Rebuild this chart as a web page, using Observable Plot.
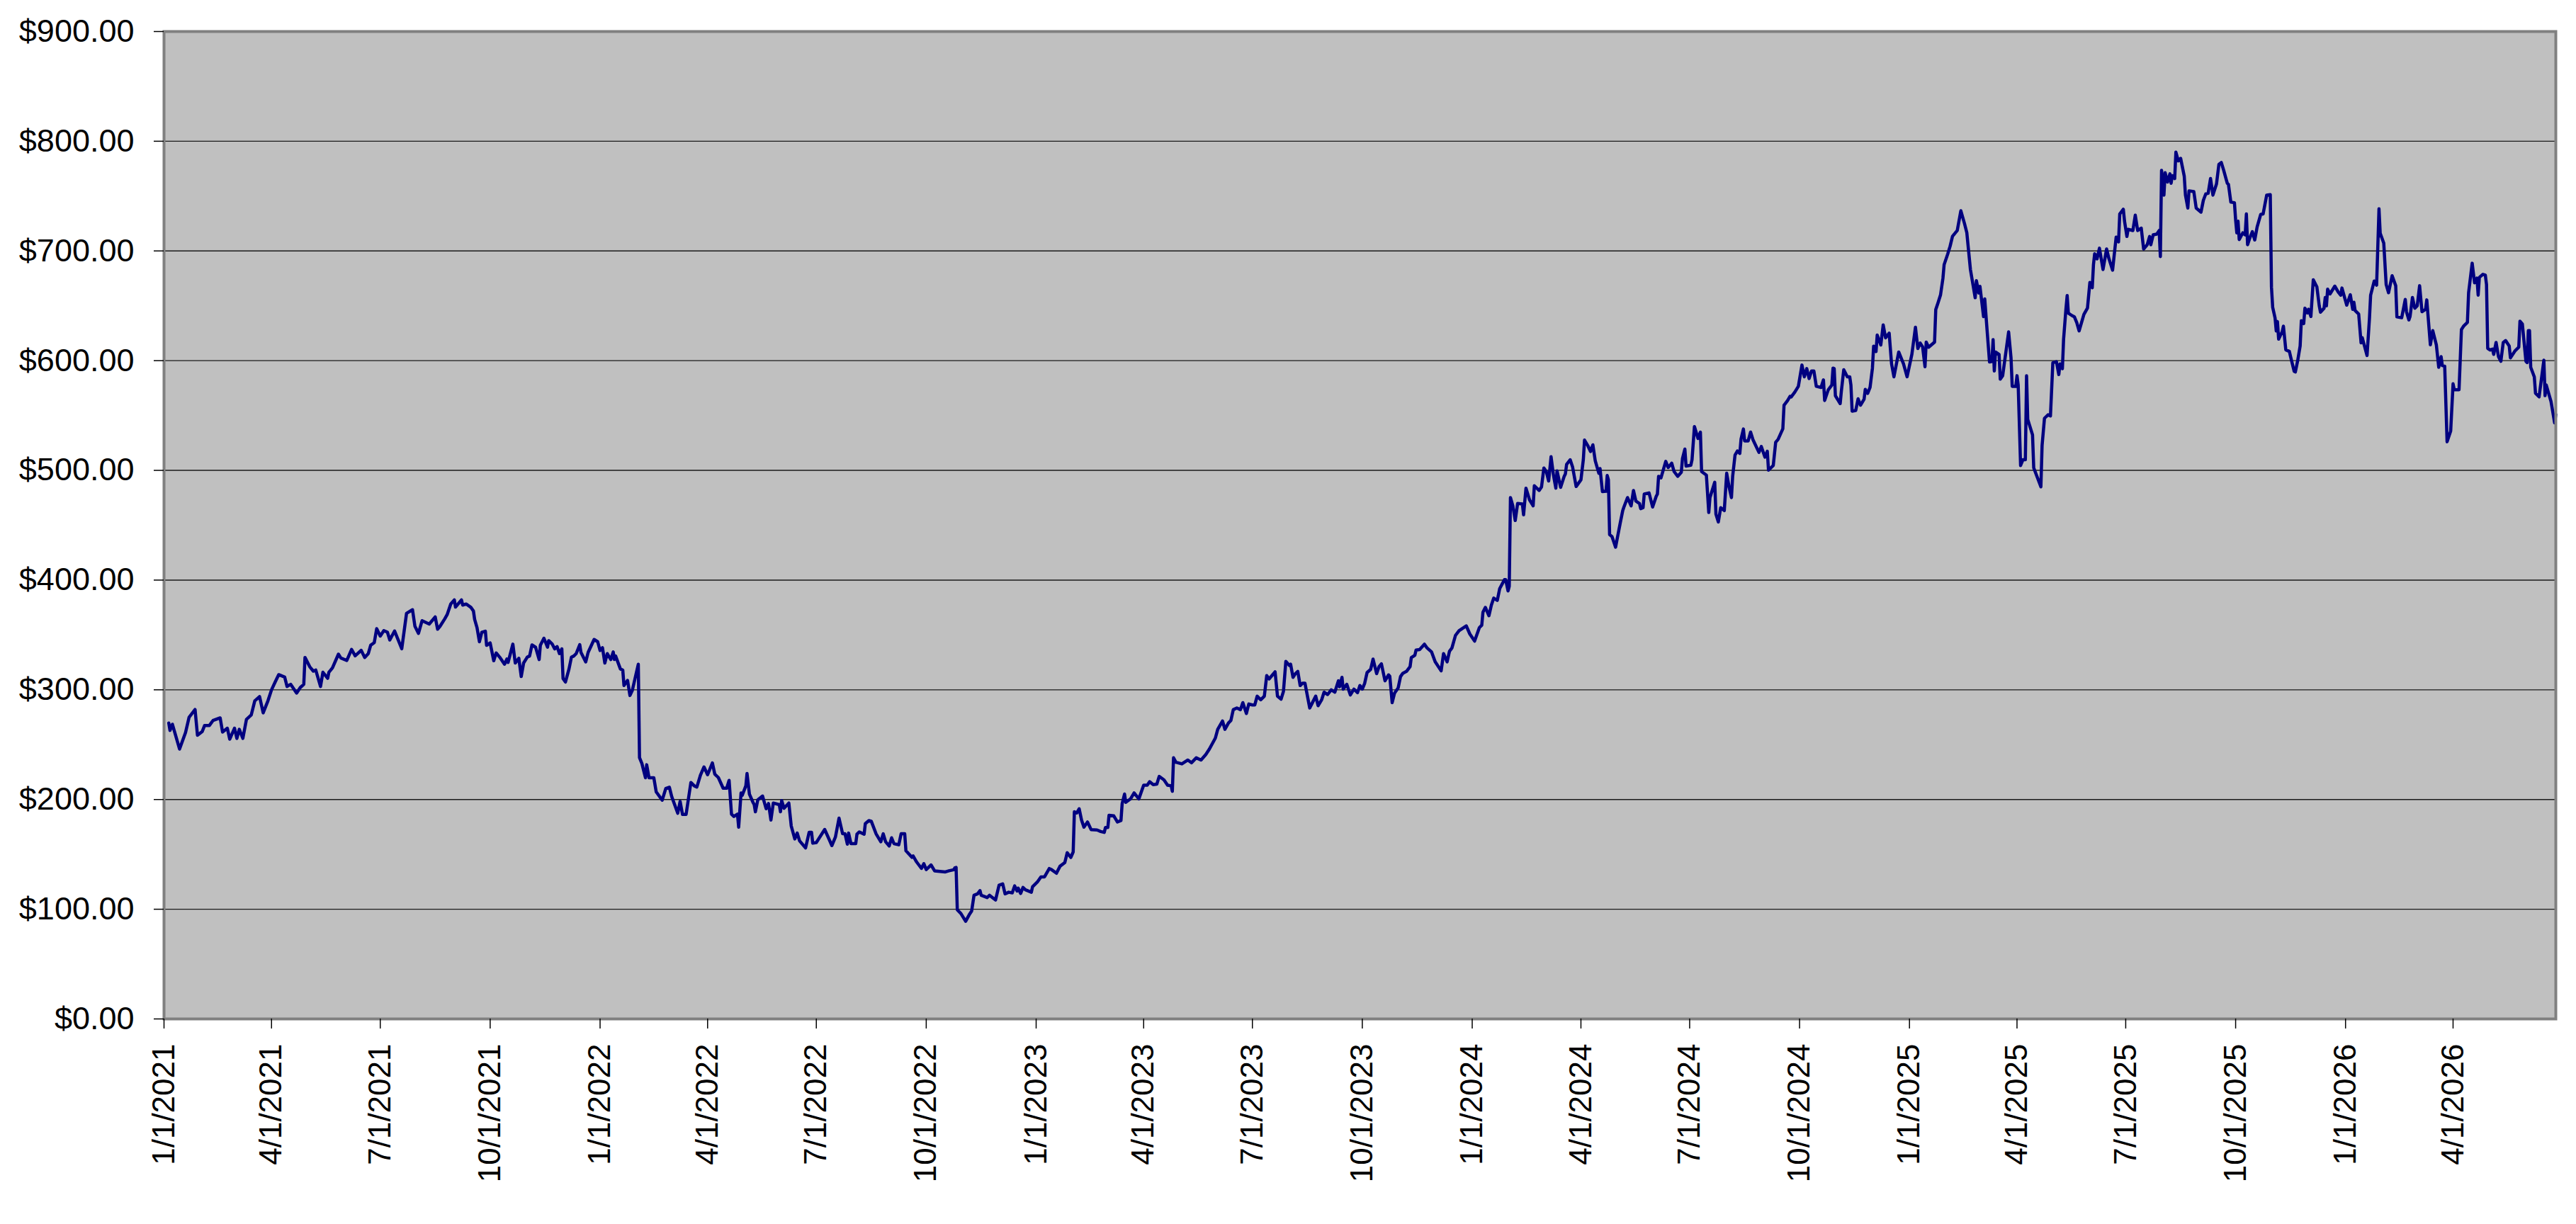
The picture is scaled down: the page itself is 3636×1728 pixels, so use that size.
<!DOCTYPE html>
<html>
<head>
<meta charset="utf-8">
<script src="https://cdn.jsdelivr.net/npm/d3@7"></script>
<script src="https://cdn.jsdelivr.net/npm/@observablehq/plot@0.6"></script>
<style>
html, body { margin: 0; padding: 0; background: #ffffff; }
svg { display: block; }
</style>
</head>
<body>
<div id="chart"></div>
<script>
const prices2021 = [
["2021-01-05",269.7],["2021-01-06",263],["2021-01-08",268.6],["2021-01-14",246],["2021-01-19",261],["2021-01-22",275],["2021-01-27",282],["2021-01-29",258.5],["2021-02-02",262],["2021-02-04",267.5],["2021-02-08",267.5],["2021-02-11",272],["2021-02-17",274.4],["2021-02-19",261.5],["2021-02-23",265],["2021-02-25",255],["2021-03-01",265],["2021-03-03",255.7],["2021-03-05",264],["2021-03-08",255.7],["2021-03-11",273],["2021-03-15",277],["2021-03-18",290],["2021-03-22",293.8],["2021-03-25",279],["2021-03-29",290],["2021-04-01",300],["2021-04-04",307],["2021-04-07",313.8],["2021-04-12",311.6],["2021-04-14",303],["2021-04-17",305],["2021-04-22",297],["2021-04-25",302],["2021-04-28",305],["2021-04-29",329.5],["2021-05-03",321],["2021-05-06",317],["2021-05-08",318],["2021-05-12",303],["2021-05-14",316],["2021-05-18",310.5],["2021-05-19",316],["2021-05-22",320],["2021-05-27",332.5],["2021-05-29",329],["2021-06-03",326.7],["2021-06-07",336.8],["2021-06-10",331],["2021-06-15",336],["2021-06-18",329.5],["2021-06-21",333],["2021-06-23",340.7],["2021-06-26",343],["2021-06-28",355.7],["2021-07-01",349],["2021-07-04",354],["2021-07-07",352.5],["2021-07-09",345.4],["2021-07-13",353.6],["2021-07-19",337.4],["2021-07-23",369.7],["2021-07-28",373],["2021-07-30",358],["2021-08-02",351.4],["2021-08-05",363],
["2021-08-11",359.9],["2021-08-16",366.4],["2021-08-18",355.2],["2021-08-20",357.8],["2021-08-24",364.7],["2021-08-26",368.5],["2021-08-29",378.2],["2021-09-01",381.9],["2021-09-02",375.4],["2021-09-07",381.9],["2021-09-08",377.2],["2021-09-11",378.2],["2021-09-15",375],["2021-09-17",371.8],["2021-09-18",364.2],["2021-09-20",356.7],["2021-09-22",343.8],["2021-09-24",352.4],["2021-09-27",353.4],["2021-09-28",340.5],["2021-10-01",342.7],["2021-10-04",326.5],["2021-10-06",333.6],["2021-10-09",329.7],["2021-10-13",323.3],["2021-10-15",328],["2021-10-16",325],["2021-10-20",341.6],["2021-10-22",324.4],["2021-10-25",328.7],["2021-10-27",312.1],["2021-10-29",324.4],["2021-11-01",329.7],["2021-11-03",330.8],["2021-11-05",340.9],["2021-11-08",338.8],["2021-11-11",327.6],["2021-11-12",340.5],["2021-11-15",347],["2021-11-18",338.8],["2021-11-19",344.8],["2021-11-22",341.6],["2021-11-24",337.3],["2021-11-26",339.4],["2021-11-28",333],["2021-11-30",337.3],["2021-12-01",310.3],["2021-12-03",307.1],["2021-12-06",319],["2021-12-08",329.7],["2021-12-10",330.8],["2021-12-12",333],["2021-12-15",341.2],["2021-12-16",334.1],["2021-12-20",325.4],["2021-12-22",334.1],["2021-12-27",345.9],["2021-12-30",343.8]
];
const prices2022 = [
["2022-01-01",335.8],["2022-01-03",338.4],["2022-01-05",324.4],["2022-01-07",333],["2022-01-10",327.6],["2022-01-12",334.5],["2022-01-13",327.6],["2022-01-14",330.8],["2022-01-18",319],["2022-01-20",318],["2022-01-21",303.9],["2022-01-24",308.6],["2022-01-26",294.8],["2022-01-28",299.6],["2022-02-02",323.3],["2022-02-03",238.1],["2022-02-05",232.8],["2022-02-08",219.8],["2022-02-09",231.7],["2022-02-11",219.8],["2022-02-15",219.8],["2022-02-17",206.9],["2022-02-22",199.4],["2022-02-25",210.1],["2022-02-28",211.2],["2022-03-02",202.6],["2022-03-07",187.5],["2022-03-09",198.3],["2022-03-11",186.4],["2022-03-14",186.4],["2022-03-18",215.5],["2022-03-21",212.3],
["2022-03-23",211.4],["2022-03-26",222.2],["2022-03-29",229.7],["2022-04-01",222.6],["2022-04-05",233.4],["2022-04-07",223.2],["2022-04-10",220],["2022-04-14",210.3],["2022-04-17",210.3],["2022-04-19",217.4],["2022-04-21",186.7],["2022-04-23",184.5],["2022-04-26",186.7],["2022-04-27",174.8],["2022-04-29",206],["2022-04-30",203.9],["2022-05-03",212.5],["2022-05-04",223.7],["2022-05-06",204.9],["2022-05-09",197.4],["2022-05-10",195.3],["2022-05-11",188.8],["2022-05-13",199.6],["2022-05-17",203.2],["2022-05-20",191.6],["2022-05-22",196.3],["2022-05-24",181.3],["2022-05-26",196.8],["2022-05-31",195.3],["2022-06-01",188.8],["2022-06-02",199],["2022-06-04",192],["2022-06-08",196.8],["2022-06-10",175.9],["2022-06-13",164.1],["2022-06-15",169.4],["2022-06-17",162.3],["2022-06-22",155.9],["2022-06-25",170.1],["2022-06-27",170.1],["2022-06-28",160.2],["2022-07-01",160.8],["2022-07-08",172.7],["2022-07-12",163],["2022-07-14",158],["2022-07-17",165.8],["2022-07-20",183],["2022-07-23",168.8],["2022-07-25",168.8],["2022-07-27",159.3],["2022-07-28",169.4],["2022-07-30",159.8],["2022-08-03",159.8],["2022-08-04",168.4],["2022-08-06",170.5],["2022-08-10",168.4],["2022-08-11",178],["2022-08-14",180.8],["2022-08-16",180.2],["2022-08-20",168.8],["2022-08-24",161.5],["2022-08-26",168.8],["2022-08-28",161.5],["2022-08-31",157.6],["2022-09-02",165.1],["2022-09-04",159.8],["2022-09-08",158.7],["2022-09-10",168.8],["2022-09-13",168.8],["2022-09-14",153.3],["2022-09-19",147.3],["2022-09-20",148.6],["2022-09-23",143],["2022-09-27",137.2],["2022-09-29",141.5],["2022-10-01",136.1],["2022-10-05",140.4],["2022-10-08",135],["2022-10-17",134],["2022-10-20",135],["2022-10-24",136],["2022-10-25",137.8],
["2022-10-26",138.1],["2022-10-27",99.4],["2022-10-30",96.1],["2022-11-03",89],["2022-11-06",95],["2022-11-08",98.3],["2022-11-10",112.7],["2022-11-13",114],["2022-11-15",117],["2022-11-16",112.7],["2022-11-21",110.6],["2022-11-23",112.7],["2022-11-28",108.4],["2022-12-01",122],["2022-12-04",123.1],["2022-12-06",114],["2022-12-09",115.5],["2022-12-12",114.9],["2022-12-14",121.3],["2022-12-16",116.6],["2022-12-17",119.2],["2022-12-19",114.4],["2022-12-21",119.8],["2022-12-23",117.7],["2022-12-28",115.5],["2022-12-29",120.5]
];
const prices2023 = [
["2023-01-02",124.8],["2023-01-05",129.5],["2023-01-08",129.5],["2023-01-12",137.1],["2023-01-14",136],["2023-01-18",132.8],["2023-01-21",139.2],["2023-01-25",142.5],["2023-01-27",151.5],["2023-01-30",147.2],["2023-02-01",152.2],["2023-02-02",188.8],["2023-02-04",187.7],["2023-02-06",191.6],["2023-02-08",181.3],["2023-02-10",174.8],["2023-02-13",179.5],["2023-02-16",172.6],["2023-02-21",172.2],["2023-02-24",170.9],["2023-02-27",170],["2023-02-28",174.4],["2023-03-02",174.4],["2023-03-03",185.6],["2023-03-07",185.1],["2023-03-10",179.5],["2023-03-13",180.8],["2023-03-14",196.3],["2023-03-16",205],["2023-03-17",197.4],["2023-03-21",200.6],["2023-03-24",206],["2023-03-28",200.6],["2023-04-01",213.1],["2023-04-04",213.1],["2023-04-06",216.2],["2023-04-09",213.6],["2023-04-12",214],["2023-04-14",221.1],["2023-04-18",217.9],["2023-04-21",213.1],["2023-04-24",212.5],["2023-04-25",207.5],["2023-04-26",238],["2023-04-28",234],["2023-05-03",232.5],["2023-05-08",236],["2023-05-11",233.5],["2023-05-15",238],["2023-05-19",236],["2023-05-23",241],["2023-05-26",246],["2023-05-31",256],["2023-06-02",264],
["2023-06-06",271.5],["2023-06-08",264],["2023-06-11",269.8],["2023-06-13",272],["2023-06-15",281.9],["2023-06-18",283.4],["2023-06-21",281.9],["2023-06-23",288.3],["2023-06-26",278.4],["2023-06-28",287.1],["2023-07-01",286.2],["2023-07-03",286.2],["2023-07-05",294.2],["2023-07-08",290.9],["2023-07-11",294.2],["2023-07-13",312.9],["2023-07-15",309.9],["2023-07-17",312.5],["2023-07-20",316.4],["2023-07-22",294.2],["2023-07-25",291.4],["2023-07-27",298.5],["2023-07-29",325.9],["2023-08-01",322.2],["2023-08-02",323.3],["2023-08-04",311.4],["2023-08-06",314.7],["2023-08-08",316.8],["2023-08-10",303.9],["2023-08-12",306],["2023-08-14",306],["2023-08-18",283.4],["2023-08-20",287.7],["2023-08-23",294.2],["2023-08-25",285.5],["2023-08-28",290.9],["2023-08-30",297.8],["2023-09-02",295.7],["2023-09-05",300],["2023-09-08",297.8],["2023-09-11",308.2],["2023-09-12",302.8],["2023-09-14",311.4],["2023-09-15",300.6],["2023-09-18",305],["2023-09-21",295.3],["2023-09-24",300.6],["2023-09-27",297.4],["2023-09-29",303.9],["2023-10-01",300.6],["2023-10-03",306],["2023-10-05",315.7],["2023-10-08",318.6],["2023-10-10",328],["2023-10-13",314.7],["2023-10-15",321.1],["2023-10-17",323.7],["2023-10-20",308.2],["2023-10-23",313.6],["2023-10-24",312.5],["2023-10-26",288.3],["2023-10-28",297],["2023-10-31",301.7],["2023-11-02",312.1],["2023-11-04",315.1],["2023-11-07",316.8],["2023-11-10",321.1],["2023-11-11",329.3],["2023-11-14",331.5],["2023-11-15",336.2],["2023-11-18",336.7],["2023-11-22",341.6],["2023-11-24",338.4],["2023-11-28",334.5],["2023-12-01",325.5],["2023-12-06",317.3],["2023-12-08",333],["2023-12-11",325.5],["2023-12-13",335.2],["2023-12-15",338],["2023-12-18",349.6],["2023-12-21",353.9],["2023-12-27",358.3],["2023-12-30",350.9]
];
const prices2024 = [
["2024-01-03",344.4],["2024-01-07",356.7],["2024-01-09",358.9],["2024-01-10",370.8],["2024-01-12",375.1],["2024-01-15",367.5],["2024-01-17",377],["2024-01-19",383.6],["2024-01-22",381.5],["2024-01-24",392.2],["2024-01-28",400.4],["2024-01-29",400.4],["2024-01-31",390.1],["2024-02-01",394.4],["2024-02-02",475.2],["2024-02-04",467.7],["2024-02-06",454.3],["2024-02-08",469.8],["2024-02-12",469.4],["2024-02-13",459.5],["2024-02-15",483.8],["2024-02-18",473.1],["2024-02-21",467.7],["2024-02-22",486],["2024-02-26",481.7],["2024-02-28",484.9],["2024-03-01",502.2],["2024-03-03",498.9],["2024-03-05",490.3],["2024-03-07",512.5],["2024-03-09",495.7],["2024-03-11",483.8],["2024-03-12",499.6],["2024-03-15",484.5],["2024-03-18",494.6],["2024-03-19",496.8],["2024-03-20",505.4],["2024-03-23",509.7],["2024-03-25",503.2],["2024-03-28",485.3],["2024-04-01",491.4],["2024-04-03",509.7],["2024-04-04",527.6],["2024-04-07",522],["2024-04-09",517.2],["2024-04-11",523.3],["2024-04-13",508.6],["2024-04-16",497.4],["2024-04-17",501.7],["2024-04-19",480.6],["2024-04-22",481],["2024-04-23",495.3],["2024-04-24",491.4],["2024-04-25",441.4],["2024-04-27",439.7],["2024-04-30",430],["2024-05-02",441.4],["2024-05-04",452.6],["2024-05-06",463.4],["2024-05-07",466.6],["2024-05-10",475.2],["2024-05-13",467.7],["2024-05-15",481.7],["2024-05-17",472],["2024-05-20",469.8],["2024-05-21",465.1],["2024-05-23",466],["2024-05-24",478.4],["2024-05-28",479.5],["2024-05-31",466.6],["2024-06-03",476.3],["2024-06-04",478.4],["2024-06-05",494.6],["2024-06-07",493.1],["2024-06-11",508.2],["2024-06-13",502.6],["2024-06-16",506.5],["2024-06-18",498.9],["2024-06-21",494.6],["2024-06-24",498.3],["2024-06-25",510.8],["2024-06-27",519.4],["2024-06-28",503.9],["2024-07-02",504.7],["2024-07-03",509.7],["2024-07-05",539.9],["2024-07-08",529.1],["2024-07-10",534.9],["2024-07-11",498.9],["2024-07-15",495.7],["2024-07-17",461.6],["2024-07-18",475.2],["2024-07-22",489.2],["2024-07-23",460.1],["2024-07-25",453],["2024-07-27",466],["2024-07-30",463.4],["2024-08-01",497.4],["2024-08-03",484.9],["2024-08-05",475.2],["2024-08-06",494.6],["2024-08-08",514],["2024-08-10",517.7],["2024-08-12",515.5],["2024-08-13",528.4],["2024-08-15",537.7],["2024-08-16",526.9],["2024-08-19",526.9],["2024-08-21",534.9],["2024-08-23",528],
["2024-08-28",516.4],["2024-08-30",521.7],["2024-09-02",512.1],["2024-09-04",517.4],["2024-09-05",500.2],["2024-09-09",504.5],["2024-09-11",525.6],["2024-09-13",528.2],["2024-09-17",537.9],["2024-09-18",559.4],["2024-09-21",563.7],["2024-09-23",567.4],["2024-09-24",566.9],["2024-09-27",571.3],["2024-09-30",576.6],["2024-10-03",596],["2024-10-05",585.3],["2024-10-07",592.8],["2024-10-09",583.7],["2024-10-11",590.6],["2024-10-13",590.6],["2024-10-15",576.6],["2024-10-19",575.6],["2024-10-21",582.5],["2024-10-22",563.7],["2024-10-25",573.4],["2024-10-28",577.7],["2024-10-29",593.2],["2024-10-30",592.8],["2024-10-31",568],["2024-11-04",560.9],["2024-11-05",572.3],["2024-11-07",591.7],["2024-11-10",585.3],["2024-11-12",585.3],["2024-11-13",577.7],["2024-11-14",554],["2024-11-17",554.5],["2024-11-19",565.2],["2024-11-21",559.4],["2024-11-24",564.8],["2024-11-25",573.8],["2024-11-27",570.2],["2024-11-29",575.6],["2024-12-01",593.2],["2024-12-02",613.2],["2024-12-04",608.3],["2024-12-05",623.4],["2024-12-08",614.3],["2024-12-10",632.6],["2024-12-12",620.8],["2024-12-15",625.1],["2024-12-17",597.1],["2024-12-19",585.3],["2024-12-23",607.9],["2024-12-27",597.1],["2024-12-30",585.3]
];
const prices2025 = [
["2025-01-03",605.7],["2025-01-06",630.5],["2025-01-08",611.1],["2025-01-10",616],["2025-01-12",612.6],["2025-01-14",594.5],["2025-01-15",616.9],["2025-01-17",612.2],["2025-01-22",616.9],["2025-01-23",646.6],["2025-01-25",653.1],["2025-01-27",660],["2025-01-29",675],["2025-01-30",687.5],["2025-02-02",697.2],["2025-02-04",704.3],["2025-02-06",713.3],["2025-02-10",718.7],["2025-02-13",736.6],["2025-02-16",725.2],["2025-02-18",716.6],["2025-02-21",683.2],["2025-02-23",670.3],["2025-02-25",657.4],["2025-02-26",672.9],["2025-02-28",661.7],["2025-03-01",667.7],["2025-03-04",640.2],["2025-03-05",656.3],["2025-03-07",627.2],["2025-03-09",598.8],["2025-03-11",599.3],["2025-03-12",619.1],["2025-03-13",590.6],["2025-03-14",607.9],["2025-03-17",605.7],["2025-03-18",583.1],["2025-03-20",586.3],["2025-03-25",626.2],["2025-03-27",602.5],["2025-03-28",576.6],["2025-03-31",576.6],["2025-04-01",586.3],["2025-04-02",577.7],
["2025-04-04",504.4],["2025-04-06",509.8],["2025-04-08",509.8],["2025-04-09",586.2],["2025-04-10",546.4],["2025-04-14",532.4],["2025-04-15",502.3],["2025-04-21",485],["2025-04-22",522.7],["2025-04-24",547.5],["2025-04-27",550.7],["2025-04-29",549.6],["2025-05-01",598.1],["2025-05-04",599.1],["2025-05-06",587.3],["2025-05-07",597],["2025-05-09",592.7],["2025-05-10",619.6],["2025-05-12",647.6],["2025-05-13",659.4],["2025-05-14",643.3],["2025-05-17",641.1],["2025-05-19",640],["2025-05-21",634.7],["2025-05-23",627.1],["2025-05-27",642.2],["2025-05-30",648],["2025-06-01",671.3],["2025-06-03",666.5],["2025-06-04",687.4],["2025-06-05",697.5],["2025-06-07",692.8],["2025-06-09",702.5],["2025-06-12",683.1],["2025-06-15",701.8],["2025-06-17",692.8],["2025-06-20",682.5],["2025-06-23",712.6],["2025-06-25",708.3],["2025-06-26",733.7],["2025-06-29",738],["2025-06-30",727.2],["2025-07-02",713.2],["2025-07-03",719.7],["2025-07-07",718.6],["2025-07-09",732.6],["2025-07-11",718.6],["2025-07-14",720.8],["2025-07-16",701.8],["2025-07-19",705.7],["2025-07-21",713.2],["2025-07-22",705.7],["2025-07-24",714.7],["2025-07-27",715.4],["2025-07-29",718.6],["2025-07-30",694.9],["2025-07-31",773.5],["2025-08-02",750.9],["2025-08-03",771.4],["2025-08-05",762.8],["2025-08-07",770.3],["2025-08-08",761.7],["2025-08-09",768.6],["2025-08-11",766],["2025-08-12",790.1],["2025-08-14",782.1],["2025-08-16",784.3],["2025-08-19",768.1],["2025-08-20",750.9],["2025-08-22",739.1],["2025-08-23",754.8],["2025-08-27",754.1],["2025-08-29",739.1],["2025-09-02",735.4],["2025-09-04",746.2],["2025-09-06",752],["2025-09-08",752.6],["2025-09-10",766],["2025-09-12",750.9],["2025-09-15",761.2],["2025-09-17",778.9],["2025-09-19",780.6],["2025-09-21",773.5],["2025-09-24",761.7],["2025-09-25",760.6],["2025-09-27",744.5],["2025-09-30",744],["2025-10-01",728.3],["2025-10-02",716.5],["2025-10-03",727.2],["2025-10-04",710.4],["2025-10-07",716.5],["2025-10-09",714.7],["2025-10-10",733.7],["2025-10-11",705.7],["2025-10-13",712.2],["2025-10-15",717.5],["2025-10-17",710],["2025-10-19",721.9],["2025-10-22",733.3],["2025-10-24",733.7],["2025-10-27",750.9],["2025-10-30",751.3],["2025-10-31",667],["2025-11-01",648.7],["2025-11-03",639],["2025-11-04",627.1],["2025-11-05",635.7],["2025-11-06",619.6],["2025-11-09",626.5],["2025-11-10",631.4],["2025-11-12",609.9],
["2025-11-15",608.4],["2025-11-16",603.7],["2025-11-19",590.3],["2025-11-20",589.7],["2025-11-22",600.4],["2025-11-24",613.4],["2025-11-25",636.4],["2025-11-27",633.8],["2025-11-28",647.8],["2025-11-30",643.5],["2025-12-01",646.8],["2025-12-03",640.3],["2025-12-05",673.7],["2025-12-08",667.2],["2025-12-10",650],["2025-12-11",644.2],["2025-12-14",647.8],["2025-12-15",657.5],["2025-12-16",650],["2025-12-17",665.1],["2025-12-19",660.8],["2025-12-23",667.9],["2025-12-26",662.3],["2025-12-28",659.7],["2025-12-29",666.2]
];
const prices2026 = [
["2026-01-02",650.6],["2026-01-05",660.1],["2026-01-07",646.8],["2026-01-08",653.2],["2026-01-09",645.7],["2026-01-12",642.5],["2026-01-14",616.2],["2026-01-15",620.9],["2026-01-19",604.7],["2026-01-21",638.1],["2026-01-22",659.7],["2026-01-25",672.6],["2026-01-27",668.8],["2026-01-29",738.4],["2026-01-30",716.2],["2026-02-02",707.1],["2026-02-04",669.4],["2026-02-06",661.9],["2026-02-09",677.4],["2026-02-12",668.3],["2026-02-13",639.9],["2026-02-17",639.2],["2026-02-20",655.8],["2026-02-21",644.6],["2026-02-23",637.1],["2026-02-24",640.3],["2026-02-26",657.5],["2026-02-28",647.8],["2026-03-02",650],["2026-03-04",668.3],["2026-03-06",644.6],["2026-03-09",646.8],["2026-03-10",655.4],["2026-03-13",614.4],["2026-03-15",627.4],["2026-03-18",614.4],["2026-03-20",594],["2026-03-22",603.7],["2026-03-23",595.5],["2026-03-25",595],["2026-03-27",526.1],["2026-03-30",535.8],["2026-04-01",578.9],["2026-04-02",573.5],["2026-04-06",573.5],["2026-04-08",628.4],["2026-04-10",631.7],["2026-04-13",634.9],["2026-04-14",661.9],["2026-04-17",688.8],["2026-04-19",670.9],["2026-04-21",675.2],["2026-04-22",659.7],["2026-04-23",675.9],["2026-04-26",678.7],["2026-04-28",678],["2026-04-29",669.4],["2026-04-30",611.2],["2026-05-02",609.7],["2026-05-04",610.6],["2026-05-05",605.8],["2026-05-07",616.6],["2026-05-09",603.7],["2026-05-11",599.4],["2026-05-13",616.6],["2026-05-15",618.3],["2026-05-18",613.4],["2026-05-19",602.6],["2026-05-23",609.1],["2026-05-26",612.3],["2026-05-27",636],["2026-05-29",633.4],["2026-06-01",599.4],["2026-06-02",598.3],["2026-06-03",627.4],["2026-06-04",627.4],["2026-06-05",594],["2026-06-08",585.3],["2026-06-09",570.3],["2026-06-12",567],["2026-06-16",600.4],["2026-06-17",568.1],["2026-06-18",577.8],["2026-06-22",562.7],["2026-06-23",556.3],["2026-06-25",543.3],["2026-06-26",550.9]
];

const yTicks = [0, 100, 200, 300, 400, 500, 600, 700, 800, 900];
const xTickLabels = ["1/1/2021","4/1/2021","7/1/2021","10/1/2021","1/1/2022","4/1/2022","7/1/2022","10/1/2022","1/1/2023","4/1/2023","7/1/2023","10/1/2023","1/1/2024","4/1/2024","7/1/2024","10/1/2024","1/1/2025","4/1/2025","7/1/2025","10/1/2025","1/1/2026","4/1/2026"];
const xDomain = ["2021-01-01", "2026-06-26"];

const parseMDY = d3.utcParse("%m/%d/%Y");
const data = d3.sort(
  [...prices2021, ...prices2022, ...prices2023, ...prices2024, ...prices2025, ...prices2026]
    .map(([d, v]) => ({date: new Date(d + "T00:00:00Z"), price: v})),
  d => d.date
);
const xTicks = xTickLabels.map(parseMDY);

const chart = Plot.plot({
  width: 3636,
  height: 1728,
  marginLeft: 231,
  marginRight: 29,
  marginTop: 44,
  marginBottom: 290,
  style: {
    fontFamily: "'Liberation Sans', Arial, Helvetica, sans-serif",
    fontSize: "45px",
    background: "#ffffff",
    color: "#000000"
  },
  x: {type: "utc", domain: xDomain.map(d => new Date(d + "T00:00:00Z"))},
  y: {domain: [0, 900]},
  marks: [
    Plot.frame({fill: "#c0c0c0"}),
    Plot.gridY(yTicks, {stroke: "#1a1a1a", strokeOpacity: 1, strokeWidth: 1.4}),
    Plot.lineY(data, {x: "date", y: "price", stroke: "#000080", strokeWidth: 4.5, strokeLinejoin: "round"}),
    Plot.frame({stroke: "#808080", strokeWidth: 4}),
    Plot.axisY(yTicks, {
      label: null,
      tickSize: 14, tickPadding: 28, strokeWidth: 1.5,
      tickFormat: d => "$" + d.toFixed(2),
      fontSize: 45
    }),
    Plot.axisX(xTicks, {
      label: null,
      tickSize: 14, tickPadding: 21, tickRotate: -90, strokeWidth: 1.5,
      tickFormat: d3.utcFormat("%-m/%-d/%Y"),
      fontSize: 44
    })
  ]
});
document.getElementById("chart").appendChild(chart);
</script>
</body>
</html>
